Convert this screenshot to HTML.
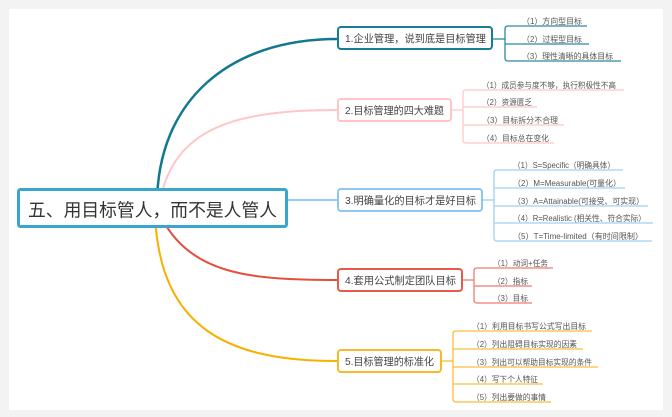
<!DOCTYPE html>
<html><head><meta charset="utf-8"><style>
html,body{margin:0;padding:0;background:#f3f3f3;}
svg{display:block;}
text{font-family:"Liberation Sans","Noto Sans CJK SC",sans-serif;}
</style></head><body>
<svg width="672" height="417" viewBox="0 0 672 417" xmlns="http://www.w3.org/2000/svg">
<rect x="0" y="0" width="672" height="417" fill="#f3f3f3"/>
<rect x="9" y="9" width="654" height="401" fill="#ffffff"/>

<!-- main edges -->
<path d="M157,205 C157,100 230,39 337,39" fill="none" stroke="#12788f" stroke-width="2.5"/>
<path d="M160,200 C175,130 230,110 337,110" fill="none" stroke="#ffc6c6" stroke-width="2"/>
<path d="M287,200 H337" fill="none" stroke="#95cbf5" stroke-width="2"/>
<path d="M160,215 C190,275 250,280 337,280" fill="none" stroke="#e3503f" stroke-width="2"/>
<path d="M155,215 C160,330 230,361 337,361" fill="none" stroke="#f7b000" stroke-width="2"/>

<!-- central node -->
<rect x="18.5" y="189.5" width="268" height="37" rx="2" fill="#ffffff" stroke="#3aa5cf" stroke-width="3"/>
<text x="28" y="216.5" font-size="18" fill="#333" textLength="249" lengthAdjust="spacingAndGlyphs">五、用目标管人，而不是人管人</text>

<!-- node 1 -->
<rect x="338" y="27" width="154" height="22" rx="3" fill="#fff" stroke="#167d94" stroke-width="2"/>
<text x="345" y="42" font-size="10.5" fill="#444" textLength="141" lengthAdjust="spacingAndGlyphs">1.企业管理，说到底是目标管理</text>
<g fill="none" stroke="#2a88a3" stroke-width="1.3">
<path d="M493,39 H505"/>
<path d="M587,26 H508 Q505,26 505,29 V58 Q505,61 508,61 H621"/>
<path d="M505,44 H589"/>
</g>
<g font-size="8" fill="#555">
<text x="522" y="24" textLength="60" lengthAdjust="spacingAndGlyphs">（1）方向型目标</text>
<text x="522" y="42" textLength="60" lengthAdjust="spacingAndGlyphs">（2）过程型目标</text>
<text x="522" y="59" textLength="91" lengthAdjust="spacingAndGlyphs">（3）理性清晰的具体目标</text>
</g>

<!-- node 2 -->
<rect x="338" y="99" width="113" height="22" rx="3" fill="#fff" stroke="#ffc4c4" stroke-width="2"/>
<text x="345" y="114" font-size="10.5" fill="#444" textLength="99" lengthAdjust="spacingAndGlyphs">2.目标管理的四大难题</text>
<g fill="none" stroke="#ffc8c8" stroke-width="1.3">
<path d="M452,110 H463"/>
<path d="M624,90 H466 Q463,90 463,93 V140 Q463,143 466,143 H554"/>
<path d="M463,107 H537"/>
<path d="M463,125 H564"/>
</g>
<g font-size="8" fill="#555">
<text x="482" y="88" textLength="134" lengthAdjust="spacingAndGlyphs">（1）成员参与度不够，执行积极性不高</text>
<text x="482" y="105" textLength="50" lengthAdjust="spacingAndGlyphs">（2）资源匮乏</text>
<text x="482" y="123" textLength="76" lengthAdjust="spacingAndGlyphs">（3）目标拆分不合理</text>
<text x="482" y="141" textLength="67" lengthAdjust="spacingAndGlyphs">（4）目标总在变化</text>
</g>

<!-- node 3 -->
<rect x="338" y="189" width="144" height="22" rx="3" fill="#fff" stroke="#8fc7f2" stroke-width="2"/>
<text x="345" y="204" font-size="10.5" fill="#444" textLength="131" lengthAdjust="spacingAndGlyphs">3.明确量化的目标才是好目标</text>
<g fill="none" stroke="#9fd0f5" stroke-width="1.3">
<path d="M483,200 H494"/>
<path d="M623,170 H497 Q494,170 494,173 V238 Q494,241 497,241 H652"/>
<path d="M494,188 H625"/>
<path d="M494,206 H648"/>
<path d="M494,223 H653"/>
</g>
<g font-size="8" fill="#555">
<text x="513" y="168" textLength="102" lengthAdjust="spacingAndGlyphs">（1）S=Specific（明确具体）</text>
<text x="513" y="186" textLength="108" lengthAdjust="spacingAndGlyphs">（2）M=Measurable(可量化）</text>
<text x="513" y="204" textLength="131" lengthAdjust="spacingAndGlyphs">（3）A=Attainable(可接受、可实现）</text>
<text x="513" y="221" textLength="133" lengthAdjust="spacingAndGlyphs">（4）R=Realistic (相关性、符合实际）</text>
<text x="513" y="239" textLength="130" lengthAdjust="spacingAndGlyphs">（5）T=Time-limited（有时间限制）</text>
</g>

<!-- node 4 -->
<rect x="338" y="269" width="124" height="22" rx="3" fill="#fff" stroke="#e65a4d" stroke-width="2"/>
<text x="345" y="284" font-size="10.5" fill="#444" textLength="111" lengthAdjust="spacingAndGlyphs">4.套用公式制定团队目标</text>
<g fill="none" stroke="#ef7b70" stroke-width="1.3">
<path d="M463,280 H474"/>
<path d="M553,268 H477 Q474,268 474,271 V300 Q474,303 477,303 H532"/>
<path d="M474,286 H532"/>
</g>
<g font-size="8" fill="#555">
<text x="493" y="266" textLength="55" lengthAdjust="spacingAndGlyphs">（1）动词+任务</text>
<text x="493" y="284" textLength="35" lengthAdjust="spacingAndGlyphs">（2）指标</text>
<text x="493" y="301" textLength="35" lengthAdjust="spacingAndGlyphs">（3）目标</text>
</g>

<!-- node 5 -->
<rect x="338" y="350" width="103" height="22" rx="3" fill="#fff" stroke="#f8b828" stroke-width="2"/>
<text x="345" y="365" font-size="10.5" fill="#444" textLength="89" lengthAdjust="spacingAndGlyphs">5.目标管理的标准化</text>
<g fill="none" stroke="#fbbd3a" stroke-width="1.3">
<path d="M442,361 H453"/>
<path d="M592,331 H456 Q453,331 453,334 V399 Q453,402 456,402 H551"/>
<path d="M453,349 H583"/>
<path d="M453,367 H598"/>
<path d="M453,384 H543"/>
</g>
<g font-size="8" fill="#555">
<text x="472" y="329" textLength="114" lengthAdjust="spacingAndGlyphs">（1）利用目标书写公式写出目标</text>
<text x="472" y="347" textLength="105" lengthAdjust="spacingAndGlyphs">（2）列出阻碍目标实现的因素</text>
<text x="472" y="365" textLength="120" lengthAdjust="spacingAndGlyphs">（3）列出可以帮助目标实现的条件</text>
<text x="472" y="382" textLength="66" lengthAdjust="spacingAndGlyphs">（4）写下个人特征</text>
<text x="472" y="400" textLength="74" lengthAdjust="spacingAndGlyphs">（5）列出要做的事情</text>
</g>
</svg>
</body></html>
